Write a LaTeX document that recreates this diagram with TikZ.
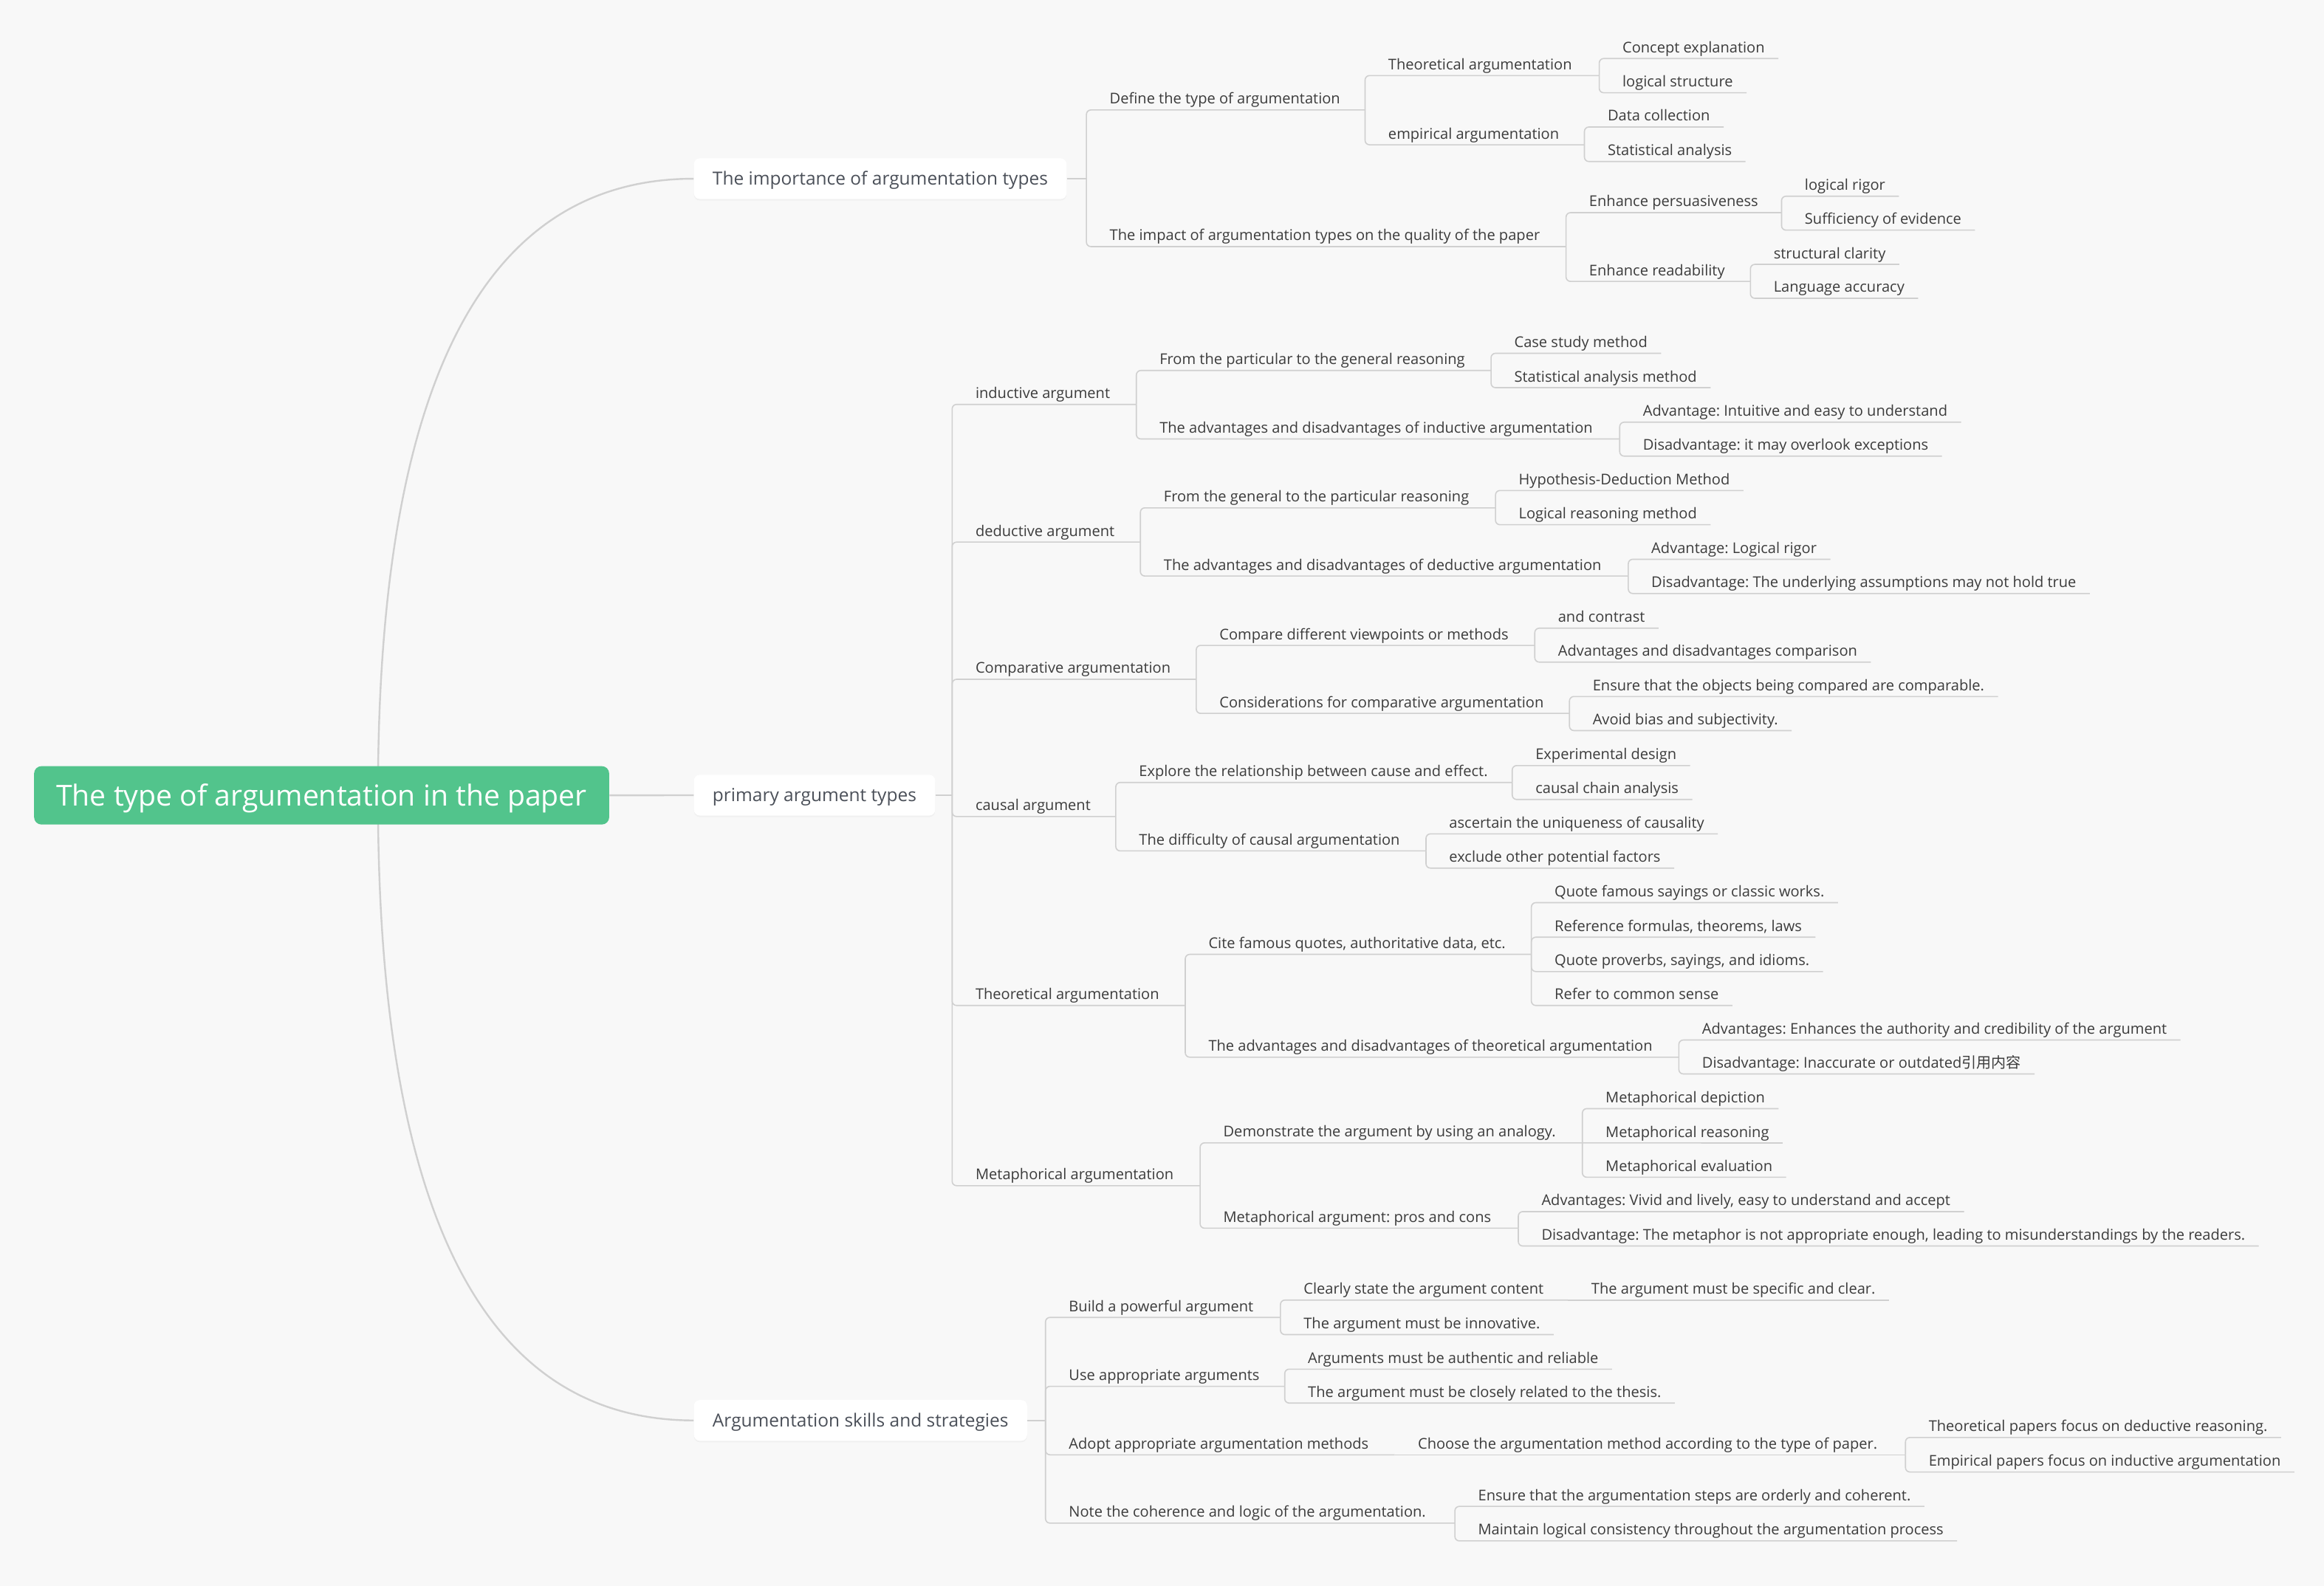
\documentclass[tikz,border=0pt]{standalone}
\usepackage{fontspec}
\setmainfont{Open Sans}
\newfontfamily\cjkfont{Noto Sans CJK SC}
\usetikzlibrary{calc,shadows}
\frenchspacing

\definecolor{paper}{HTML}{F8F8F8}
\definecolor{rootgreen}{HTML}{52C48C}
\definecolor{linkgray}{HTML}{D0D0D0}
\definecolor{txtgray}{HTML}{3C3C3C}
\definecolor{boxtxt}{HTML}{4B5059}

\tikzset{
  rootbox/.style={anchor=west, fill=rootgreen, text=white, rounded corners=5pt,
    minimum height=39.4pt, inner xsep=15pt, text height=17pt, text depth=3pt,
    font=\fontsize{19.5}{22}\selectfont},
  topicbox/.style={anchor=west, fill=white, text=boxtxt, rounded corners=4pt,
    minimum height=27.5pt, inner xsep=12.6pt, text height=11pt, text depth=2.2pt,
    font=\fontsize{12.2}{14}\selectfont,
    drop shadow={opacity=0.06, shadow xshift=0pt, shadow yshift=-1pt}},
  item/.style={anchor=base west, inner sep=0pt, yshift=4pt, text=txtgray,
    font=\fontsize{10}{12}\selectfont},
  link/.style={draw=linkgray, line width=0.8pt, rounded corners=3pt},
  curve/.style={draw=linkgray, line width=1.2pt},
}

\begin{document}
\begin{tikzpicture}[x=1pt, y=-1pt]
  \fill[paper] (0,0) rectangle (1568,1070);

  % root and main branches
  \coordinate (fork) at (255,536.7);
  \draw[curve] (fork) .. controls (255,259.3) and (326,120.6) .. (468,120.6);
  \draw[curve] (fork) .. controls (255,817.9) and (326,958.5) .. (468,958.5);
  \node[rootbox] (root) at (22.8,536.7) {The type of argumentation in the paper};
  \node[topicbox] (imp) at (468,120.6) {The importance of argumentation types};
  \node[topicbox] (prim) at (468,536.6) {primary argument types};
  \node[topicbox] (skill) at (468,958.5) {Argumentation skills and strategies};
  \draw[curve] (root.east) -- (prim.west);

  % importance of argumentation types
  \coordinate (b-imp) at (733,120.6);
  \coordinate (b-def) at (921,74.2);
  \coordinate (b-theo) at (1079,51);
  \coordinate (b-emp) at (1069,97.7);
  \coordinate (b-impact) at (1056.6,166.4);
  \coordinate (b-persu) at (1202,143.5);
  \coordinate (b-read) at (1181,189.9);
  \node[item] (def) at (748.5,74.2) {Define the type of argumentation};
  \node[item] (theo) at (936.5,51) {Theoretical argumentation};
  \node[item] (concept) at (1094.5,39.5) {Concept explanation};
  \node[item] (logstruct) at (1094.5,62.6) {logical structure};
  \node[item] (emp) at (936.5,97.7) {empirical argumentation};
  \node[item] (datacol) at (1084.5,85.7) {Data collection};
  \node[item] (statan) at (1084.5,109) {Statistical analysis};
  \node[item] (impact) at (748.5,166.4) {The impact of argumentation types on the quality of the paper};
  \node[item] (persu) at (1072,143.5) {Enhance persuasiveness};
  \node[item] (rigor) at (1217.5,132.4) {logical rigor};
  \node[item] (suff) at (1217.5,155.3) {Sufficiency of evidence};
  \node[item] (read) at (1072,189.9) {Enhance readability};
  \node[item] (clarity) at (1196.5,178.4) {structural clarity};
  \node[item] (lang) at (1196.5,201.3) {Language accuracy};

  \draw[link] (imp.east) -- (b-imp);
  \draw[link] (b-imp) |- (b-def);
  \draw[link] (b-imp) |- (b-impact);
  \draw[link] (b-def) |- (b-theo);
  \draw[link] (b-def) |- (b-emp);
  \draw[link] (b-theo) |- ([xshift=9pt,yshift=-4pt]concept.base east);
  \draw[link] (b-theo) |- ([xshift=9pt,yshift=-4pt]logstruct.base east);
  \draw[link] (b-emp) |- ([xshift=9pt,yshift=-4pt]datacol.base east);
  \draw[link] (b-emp) |- ([xshift=9pt,yshift=-4pt]statan.base east);
  \draw[link] (b-impact) |- (b-persu);
  \draw[link] (b-impact) |- (b-read);
  \draw[link] (b-persu) |- ([xshift=9pt,yshift=-4pt]rigor.base east);
  \draw[link] (b-persu) |- ([xshift=9pt,yshift=-4pt]suff.base east);
  \draw[link] (b-read) |- ([xshift=9pt,yshift=-4pt]clarity.base east);
  \draw[link] (b-read) |- ([xshift=9pt,yshift=-4pt]lang.base east);

  % primary argument types
  \coordinate (b-prim) at (642.4,536.6);
  \coordinate (b-induct) at (766.7,272.9);
  \coordinate (b-partgen) at (1006,250);
  \coordinate (b-indadv) at (1092.8,296.2);
  \coordinate (b-deduct) at (769.4,365.8);
  \coordinate (b-genpart) at (1009,342.7);
  \coordinate (b-dedadv) at (1098.6,388.7);
  \coordinate (b-compar) at (807.1,458.4);
  \coordinate (b-compview) at (1035.5,435.5);
  \coordinate (b-consid) at (1058.9,481.4);
  \coordinate (b-causal) at (752.8,551);
  \coordinate (b-explore) at (1020.3,528);
  \coordinate (b-diffic) at (962.1,574.2);
  \coordinate (b-theor) at (799.7,678.5);
  \coordinate (b-cite) at (1033.2,644);
  \coordinate (b-theadv) at (1132.7,713.4);
  \coordinate (b-metaph) at (809.7,800.1);
  \coordinate (b-analogy) at (1067.6,771.2);
  \coordinate (b-mpros) at (1024.4,828.8);

  \node[item] (induct) at (658,272.9) {inductive argument};
  \node[item] (partgen) at (782.2,250) {From the particular to the general reasoning};
  \node[item] (casestudy) at (1021.5,238.4) {Case study method};
  \node[item] (statmeth) at (1021.5,261.6) {Statistical analysis method};
  \node[item] (indadv) at (782.2,296.2) {The advantages and disadvantages of inductive argumentation};
  \node[item] (indpro) at (1108.3,284.9) {Advantage: Intuitive and easy to understand};
  \node[item] (indcon) at (1108.3,307.8) {Disadvantage: it may overlook exceptions};

  \node[item] (deduct) at (658,365.8) {deductive argument};
  \node[item] (genpart) at (785,342.7) {From the general to the particular reasoning};
  \node[item] (hypo) at (1024.5,331) {Hypothesis-Deduction Method};
  \node[item] (logreas) at (1024.5,354.1) {Logical reasoning method};
  \node[item] (dedadv) at (785,388.7) {The advantages and disadvantages of deductive argumentation};
  \node[item] (dedpro) at (1114,377.4) {Advantage: Logical rigor};
  \node[item] (dedcon) at (1114,400.5) {Disadvantage: The underlying assumptions may not hold true};

  \node[item] (compar) at (658,458.4) {Comparative argumentation};
  \node[item] (compview) at (822.6,435.5) {Compare different viewpoints or methods};
  \node[item] (contrast) at (1051,423.9) {and contrast};
  \node[item] (advcomp) at (1051,446.8) {Advantages and disadvantages comparison};
  \node[item] (consid) at (822.6,481.4) {Considerations for comparative argumentation};
  \node[item] (ensure) at (1074.4,470) {Ensure that the objects being compared are comparable.};
  \node[item] (avoid) at (1074.4,493) {Avoid bias and subjectivity.};

  \node[item] (causal) at (658,551) {causal argument};
  \node[item] (explore) at (768.3,528) {Explore the relationship between cause and effect.};
  \node[item] (expdes) at (1035.8,516.6) {Experimental design};
  \node[item] (chain) at (1035.8,539.5) {causal chain analysis};
  \node[item] (diffic) at (768.3,574.2) {The difficulty of causal argumentation};
  \node[item] (unique) at (977.6,562.7) {ascertain the uniqueness of causality};
  \node[item] (exclude) at (977.6,585.8) {exclude other potential factors};

  \node[item] (theor) at (658,678.5) {Theoretical argumentation};
  \node[item] (cite) at (815.2,644) {Cite famous quotes, authoritative data, etc.};
  \node[item] (qfamous) at (1048.7,609.1) {Quote famous sayings or classic works.};
  \node[item] (formulas) at (1048.7,632.4) {Reference formulas, theorems, laws};
  \node[item] (proverbs) at (1048.7,655.6) {Quote proverbs, sayings, and idioms.};
  \node[item] (common) at (1048.7,678.5) {Refer to common sense};
  \node[item] (theadv) at (815.2,713.4) {The advantages and disadvantages of theoretical argumentation};
  \node[item] (thepro) at (1148.2,701.8) {Advantages: Enhances the authority and credibility of the argument};
  \node[item] (thecon) at (1148.2,724.7) {Disadvantage: Inaccurate or outdated{\cjkfont 引用内容}};

  \node[item] (metaph) at (658,800.1) {Metaphorical argumentation};
  \node[item] (analogy) at (825.2,771.2) {Demonstrate the argument by using an analogy.};
  \node[item] (depict) at (1083.1,748.1) {Metaphorical depiction};
  \node[item] (mreason) at (1083.1,771.3) {Metaphorical reasoning};
  \node[item] (mevalu) at (1083.1,794.4) {Metaphorical evaluation};
  \node[item] (mpros) at (825.2,828.8) {Metaphorical argument: pros and cons};
  \node[item] (mpro) at (1039.9,817.6) {Advantages: Vivid and lively, easy to understand and accept};
  \node[item] (mcon) at (1039.9,840.8) {Disadvantage: The metaphor is not appropriate enough, leading to misunderstandings by the readers.};

  \draw[link] (prim.east) -- (b-prim);
  \draw[link] (b-prim) |- (b-induct);
  \draw[link] (b-prim) |- (b-deduct);
  \draw[link] (b-prim) |- (b-compar);
  \draw[link] (b-prim) |- (b-causal);
  \draw[link] (b-prim) |- (b-theor);
  \draw[link] (b-prim) |- (b-metaph);

  \draw[link] (b-induct) |- (b-partgen);
  \draw[link] (b-induct) |- (b-indadv);
  \draw[link] (b-partgen) |- ([xshift=9pt,yshift=-4pt]casestudy.base east);
  \draw[link] (b-partgen) |- ([xshift=9pt,yshift=-4pt]statmeth.base east);
  \draw[link] (b-indadv) |- ([xshift=9pt,yshift=-4pt]indpro.base east);
  \draw[link] (b-indadv) |- ([xshift=9pt,yshift=-4pt]indcon.base east);

  \draw[link] (b-deduct) |- (b-genpart);
  \draw[link] (b-deduct) |- (b-dedadv);
  \draw[link] (b-genpart) |- ([xshift=9pt,yshift=-4pt]hypo.base east);
  \draw[link] (b-genpart) |- ([xshift=9pt,yshift=-4pt]logreas.base east);
  \draw[link] (b-dedadv) |- ([xshift=9pt,yshift=-4pt]dedpro.base east);
  \draw[link] (b-dedadv) |- ([xshift=9pt,yshift=-4pt]dedcon.base east);

  \draw[link] (b-compar) |- (b-compview);
  \draw[link] (b-compar) |- (b-consid);
  \draw[link] (b-compview) |- ([xshift=9pt,yshift=-4pt]contrast.base east);
  \draw[link] (b-compview) |- ([xshift=9pt,yshift=-4pt]advcomp.base east);
  \draw[link] (b-consid) |- ([xshift=9pt,yshift=-4pt]ensure.base east);
  \draw[link] (b-consid) |- ([xshift=9pt,yshift=-4pt]avoid.base east);

  \draw[link] (b-causal) |- (b-explore);
  \draw[link] (b-causal) |- (b-diffic);
  \draw[link] (b-explore) |- ([xshift=9pt,yshift=-4pt]expdes.base east);
  \draw[link] (b-explore) |- ([xshift=9pt,yshift=-4pt]chain.base east);
  \draw[link] (b-diffic) |- ([xshift=9pt,yshift=-4pt]unique.base east);
  \draw[link] (b-diffic) |- ([xshift=9pt,yshift=-4pt]exclude.base east);

  \draw[link] (b-theor) |- (b-cite);
  \draw[link] (b-theor) |- (b-theadv);
  \draw[link] (b-cite) |- ([xshift=9pt,yshift=-4pt]qfamous.base east);
  \draw[link] (b-cite) |- ([xshift=9pt,yshift=-4pt]formulas.base east);
  \draw[link] (b-cite) |- ([xshift=9pt,yshift=-4pt]proverbs.base east);
  \draw[link] (b-cite) |- ([xshift=9pt,yshift=-4pt]common.base east);
  \draw[link] (b-theadv) |- ([xshift=9pt,yshift=-4pt]thepro.base east);
  \draw[link] (b-theadv) |- ([xshift=9pt,yshift=-4pt]thecon.base east);

  \draw[link] (b-metaph) |- (b-analogy);
  \draw[link] (b-metaph) |- (b-mpros);
  \draw[link] (b-analogy) |- ([xshift=9pt,yshift=-4pt]depict.base east);
  \draw[link] (b-analogy) -- ([xshift=9pt,yshift=-4pt]mreason.base east);
  \draw[link] (b-analogy) |- ([xshift=9pt,yshift=-4pt]mevalu.base east);
  \draw[link] (b-mpros) |- ([xshift=9pt,yshift=-4pt]mpro.base east);
  \draw[link] (b-mpros) |- ([xshift=9pt,yshift=-4pt]mcon.base east);

  % argumentation skills and strategies
  \coordinate (b-skill) at (705.4,958.5);
  \coordinate (b-build) at (863.9,889);
  \coordinate (b-clear) at (1058,877.3);
  \coordinate (b-useapp) at (866.8,935.5);
  \coordinate (b-adopt) at (941,981.7);
  \coordinate (b-choose) at (1285.6,981.7);
  \coordinate (b-note) at (981.6,1027.8);

  \node[item] (build) at (721,889) {Build a powerful argument};
  \node[item] (clear) at (879.4,877.3) {Clearly state the argument content};
  \node[item] (specific) at (1073.5,877.3) {The argument must be specific and clear.};
  \node[item] (innov) at (879.4,900.6) {The argument must be innovative.};
  \node[item] (useapp) at (721,935.5) {Use appropriate arguments};
  \node[item] (authentic) at (882.3,923.9) {Arguments must be authentic and reliable};
  \node[item] (related) at (882.3,946.8) {The argument must be closely related to the thesis.};
  \node[item] (adopt) at (721,981.7) {Adopt appropriate argumentation methods};
  \node[item] (choose) at (956.5,981.7) {Choose the argumentation method according to the type of paper.};
  \node[item] (thpapers) at (1301.1,970) {Theoretical papers focus on deductive reasoning.};
  \node[item] (empapers) at (1301.1,993.3) {Empirical papers focus on inductive argumentation};
  \node[item] (note) at (721,1027.8) {Note the coherence and logic of the argumentation.};
  \node[item] (orderly) at (997.1,1016.5) {Ensure that the argumentation steps are orderly and coherent.};
  \node[item] (consist) at (997.1,1039.8) {Maintain logical consistency throughout the argumentation process};

  \draw[link] (skill.east) -- (b-skill);
  \draw[link] (b-skill) |- (b-build);
  \draw[link] (b-skill) |- (b-useapp);
  \draw[link] (b-skill) |- (b-adopt);
  \draw[link] (b-skill) |- (b-note);
  \draw[link] (b-build) |- (b-clear);
  \draw[link] (b-clear) -- ([xshift=9pt,yshift=-4pt]specific.base east);
  \draw[link] (b-build) |- ([xshift=9pt,yshift=-4pt]innov.base east);
  \draw[link] (b-useapp) |- ([xshift=9pt,yshift=-4pt]authentic.base east);
  \draw[link] (b-useapp) |- ([xshift=9pt,yshift=-4pt]related.base east);
  \draw[link] (b-adopt) -- (b-choose);
  \draw[link] (b-choose) |- ([xshift=9pt,yshift=-4pt]thpapers.base east);
  \draw[link] (b-choose) |- ([xshift=9pt,yshift=-4pt]empapers.base east);
  \draw[link] (b-note) |- ([xshift=9pt,yshift=-4pt]orderly.base east);
  \draw[link] (b-note) |- ([xshift=9pt,yshift=-4pt]consist.base east);
\end{tikzpicture}
\end{document}
